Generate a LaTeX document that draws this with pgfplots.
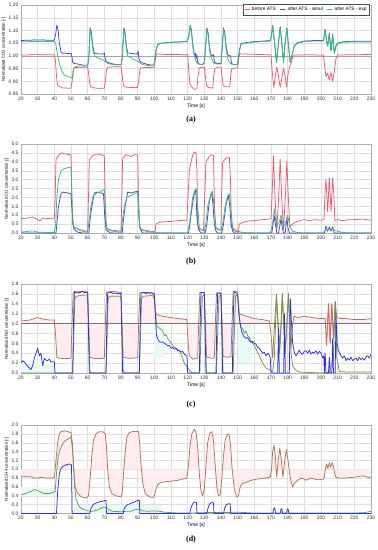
\documentclass[border=0pt]{standalone}
\usepackage{fontspec}
\setmainfont{Liberation Sans}
\newfontfamily\capfont{Liberation Serif}
\usepackage{pgfplots}
\pgfplotsset{compat=1.18}
\usepgfplotslibrary{fillbetween}
\definecolor{cred}{RGB}{250,85,105}
\definecolor{cblue}{RGB}{75,60,235}
\definecolor{cblueb}{RGB}{45,45,240}
\definecolor{cgreen}{RGB}{45,200,110}
\definecolor{cbrown}{RGB}{175,115,85}
\definecolor{colive}{RGB}{105,155,75}
\definecolor{gridc}{RGB}{222,222,222}
\definecolor{framec}{RGB}{175,175,175}
\definecolor{pinkf}{RGB}{255,236,240}
\definecolor{cyanf}{RGB}{232,250,246}
\pgfplotsset{
  myax/.style={
    scale only axis, width=350pt, height=89pt,
    xmin=20, xmax=230, xtick={20,30,...,230},
    grid=major, major grid style={gridc, line width=0.4pt},
    axis line style={framec, line width=0.5pt},
    major tick length=0pt,
    tick label style={font=\fontsize{5}{6}\selectfont, text=black!80},
    /pgf/number format/assume math mode=true,
    xticklabel style={yshift=1pt},
    yticklabel style={xshift=1pt},
    xlabel={Time [s]},
    xlabel style={font=\fontsize{5}{6}\selectfont, yshift=3.5pt},
    ylabel style={font=\fontsize{4.3}{5}\selectfont, yshift=-4pt},
    every axis plot/.append style={line width=0.75pt, no markers, line join=round},
    anchor=north west,
  }
}
\begin{document}
\begin{tikzpicture}
% ---------------- (a)
\begin{axis}[myax, at={(21pt,-5pt)},
  ymin=0.85, ymax=1.20, ytick={0.85,0.90,0.95,1.00,1.05,1.10,1.15,1.20},
  yticklabel style={/pgf/number format/.cd, fixed, fixed zerofill, precision=2},
  ylabel={Normalized CO2 concentration [-]},
  legend style={at={(rel axis cs:0.995,1.005)}, anchor=north east, draw=black!70, line width=0.3pt,
    font=\fontsize{4.8}{5.5}\selectfont, inner sep=0.6pt, outer sep=0pt, legend columns=3,
    /tikz/every even column/.append style={column sep=2pt}},
  legend image code/.code={\draw[#1, line width=0.75pt] (0pt,0pt) -- (5pt,0pt);},
]
\addplot[black!35, line width=1.3pt, forget plot] coordinates {(20,0.998) (230,0.998)};
\addplot[cred] coordinates {(20,1.003)(25,1.004)(28,1.007)(30,1.006)(33,1.004)(36,1.004)(40,1.004)(40.7,0.98)(41.3,0.92)(42,0.885)(43,0.880)(45,0.874)(48,0.873)(50,0.873)(50.7,0.90)(51.3,0.945)(52,0.954)(55,0.955)(60,0.955)(60.6,0.93)(61.3,0.89)(62,0.878)(64,0.874)(67,0.872)(70,0.873)(70.6,0.90)(71.3,0.945)(72,0.955)(75,0.957)(80,0.957)(80.6,0.93)(81.3,0.89)(82,0.878)(85,0.876)(88,0.875)(90,0.876)(90.6,0.90)(91.3,0.945)(92,0.953)(95,0.954)(100,0.955)(100.6,0.99)(101.3,1.008)(105,1.006)(110,1.005)(115,1.005)(120,1.004)(120.6,0.95)(121.3,0.89)(122.5,0.877)(124,0.868)(125.5,0.870)(126.2,0.92)(127,0.953)(128.5,0.955)(130,0.955)(130.6,0.92)(131.3,0.885)(132.5,0.876)(135,0.873)(135.6,0.92)(136.3,0.95)(138,0.955)(140,0.955)(140.6,0.92)(141.3,0.885)(142.5,0.879)(145.3,0.879)(145.8,0.92)(146.5,0.950)(148,0.952)(150,0.953)(150.6,0.99)(151.3,1.008)(155,1.007)(160,1.006)(165,1.005)(170,1.004)(170.7,0.94)(171.7,0.875)(172.6,0.92)(173.5,0.955)(174.5,0.92)(175.5,0.876)(176.5,0.91)(177.5,0.952)(178.5,0.92)(179.3,0.878)(180.3,0.93)(181.2,0.957)(182,0.97)(183,0.995)(184,1.003)(190,1.004)(195,1.004)(201.5,1.003)(202,0.97)(203,0.918)(204,0.932)(205,0.905)(206,0.935)(207,0.900)(208,0.940)(209,0.99)(210,1.003)(215,1.004)(220,1.004)(225,1.005)(230,1.005)};
\addlegendentry{before ATS}
\addplot[cblue] coordinates {(20,1.060)(22,1.061)(25,1.061)(28,1.063)(30,1.062)(33,1.063)(36,1.061)(40,1.061)(40.8,1.085)(41.5,1.121)(42.3,1.10)(43,1.05)(44,1.015)(45,1.010)(47,1.010)(49,1.009)(50,1.010)(50.5,1.0)(51,0.975)(52,0.970)(54,0.968)(56,0.965)(58,0.963)(60,0.963)(60.7,0.99)(61.5,1.111)(62.3,1.09)(63,1.04)(64,1.010)(66,1.008)(68,1.007)(69.5,1.007)(70,1.012)(70.5,0.99)(71,0.978)(72,0.975)(74,0.970)(76,0.967)(78,0.965)(80,0.965)(80.7,0.99)(81.7,1.110)(82.5,1.09)(83.2,1.04)(84,1.012)(86,1.010)(88,1.008)(89.5,1.006)(90.3,1.018)(90.7,0.99)(91.5,0.978)(93,0.972)(95,0.968)(97,0.965)(99,0.963)(100,0.97)(101,1.02)(102,1.045)(104,1.050)(108,1.052)(112,1.054)(116,1.055)(119.5,1.057)(120.5,1.07)(121.5,1.120)(122.3,1.10)(123,1.05)(124,1.005)(124.6,1.01)(125,0.99)(125.5,1.005)(126,0.975)(127,0.968)(129,0.965)(130,0.975)(130.7,1.03)(131.5,1.110)(132.3,1.09)(133,1.04)(134,1.005)(135,1.0)(135.6,1.005)(136,0.975)(138,0.970)(140,0.970)(140.7,1.03)(141.5,1.110)(142.3,1.09)(143,1.04)(144,1.005)(145,1.0)(145.8,1.0)(146.3,0.97)(148,0.965)(150,0.967)(151,1.02)(152,1.048)(155,1.052)(160,1.056)(165,1.058)(169.5,1.060)(170.3,1.08)(171,1.120)(172,1.06)(173.3,0.975)(174.5,1.05)(175.5,1.115)(176.5,1.05)(177.5,0.975)(178.5,1.05)(179.5,1.110)(180.5,1.04)(181.5,0.975)(182.5,1.0)(184,1.040)(186,1.052)(190,1.058)(195,1.060)(201.5,1.060)(202.5,1.105)(203.3,1.06)(204,1.040)(205,1.090)(206,1.020)(207,1.085)(208,1.010)(209,1.040)(210,1.050)(213,1.055)(218,1.057)(224,1.057)(230,1.057)};
\addlegendentry{after ATS - simul}
\addplot[cgreen] coordinates {(20,1.055)(25,1.056)(30,1.057)(35,1.056)(40,1.056)(40.8,1.05)(41.5,1.02)(42,1.0)(43,0.970)(44,0.950)(45,0.935)(46,0.925)(48,0.918)(50,0.915)(51,0.912)(51.5,0.940)(52,0.955)(54,0.960)(57,0.960)(60,0.960)(60.7,0.99)(61.5,1.106)(62.3,1.08)(63,1.03)(64,1.000)(65,0.995)(67,0.990)(69,0.985)(70,0.980)(71,0.975)(72,0.970)(75,0.966)(78,0.965)(80,0.965)(80.7,0.99)(81.7,1.105)(82.5,1.08)(83.2,1.03)(84,1.000)(86,0.992)(88,0.985)(90,0.978)(91.5,0.972)(93,0.966)(96,0.962)(99,0.962)(100,0.97)(101,1.02)(102,1.043)(104,1.050)(108,1.052)(112,1.054)(116,1.055)(119.5,1.056)(120.5,1.07)(121.5,1.118)(122.3,1.09)(123,1.04)(124,1.0)(125,0.978)(126,0.970)(128,0.965)(130,0.97)(130.7,1.03)(131.5,1.105)(132.3,1.08)(133,1.03)(134,0.995)(135,0.980)(136,0.970)(138,0.968)(140,0.968)(140.7,1.03)(141.5,1.105)(142.3,1.08)(143,1.03)(144,0.990)(145,0.975)(146,0.968)(148,0.965)(150,0.966)(151,1.02)(152,1.046)(155,1.050)(160,1.054)(165,1.056)(169.5,1.058)(170.3,1.08)(171,1.118)(172,1.06)(173.3,0.975)(174.5,1.05)(175.5,1.113)(176.5,1.05)(177.5,0.975)(178.5,1.05)(179.5,1.108)(180.5,1.04)(181.5,0.975)(182.5,1.0)(184,1.038)(186,1.050)(190,1.056)(195,1.058)(201.5,1.058)(202.5,1.100)(203.3,1.06)(204,1.038)(205,1.086)(206,1.020)(207,1.080)(208,1.010)(209,1.038)(210,1.048)(213,1.053)(218,1.055)(224,1.055)(230,1.055)};
\addlegendentry{after ATS - exp}
\end{axis}
% ---------------- (b)
\begin{axis}[myax, at={(21pt,-144pt)},
  ymin=0, ymax=5, ytick={0,0.5,...,5},
  yticklabel style={/pgf/number format/.cd, fixed, fixed zerofill, precision=1},
  ylabel={Normalized CO concentration [-]},
]
\addplot[cred] coordinates {(20,0.80)(23,0.83)(25,0.85)(27,0.90)(29,0.80)(30,0.75)(31,0.68)(32,0.75)(33,0.82)(34,0.85)(35,0.78)(36,0.82)(38,0.80)(40,0.80)(40.5,2.0)(41,4.15)(42,4.30)(44,4.50)(46,4.45)(48,4.42)(50,4.40)(50.5,2.0)(51,0.50)(52,0.30)(55,0.20)(58,0.12)(60,0.10)(60.5,2.0)(61,4.10)(63,4.35)(65,4.42)(67,4.42)(70,4.35)(70.5,2.0)(71,0.40)(72,0.22)(75,0.15)(80,0.10)(80.5,2.0)(81,4.20)(83,4.40)(86,4.30)(88,4.40)(90,4.40)(90.5,2.0)(91,0.40)(92,0.20)(95,0.15)(99,0.08)(100.5,0.10)(101,0.50)(103,0.60)(106,0.63)(110,0.65)(115,0.70)(119.5,0.72)(120.2,2.0)(121,3.50)(122,4.00)(123.5,4.50)(125,4.55)(125.6,3.5)(126,0.40)(127,0.20)(129.5,0.15)(130.2,2.0)(131,4.00)(133,4.30)(134.5,4.40)(135.5,4.35)(136,2.0)(136.5,0.30)(138,0.20)(140,0.15)(140.3,2.0)(141,4.00)(143,4.20)(145,4.25)(145.7,3.0)(146.2,0.35)(148,0.12)(150,0.05)(150.5,0.10)(151,0.50)(153,0.60)(157,0.68)(160,0.70)(165,0.75)(170,0.80)(170.6,2.0)(171.5,4.35)(172.4,2.0)(173.5,0.20)(174.6,2.0)(175.5,4.15)(176.4,2.0)(177.5,0.20)(178.6,2.0)(179.5,4.05)(180.4,2.0)(181.3,0.35)(183,0.50)(185,0.62)(188,0.72)(190,0.75)(193,0.70)(196,0.75)(200,0.72)(201.8,0.75)(202.5,2.5)(203,3.00)(204,1.20)(205,3.10)(206,1.20)(207,3.10)(207.8,2.0)(208.3,0.70)(210,0.75)(213,0.70)(217,0.75)(220,0.75)(225,0.78)(230,0.72)};
\addplot[cblue] coordinates {(20,0.0)(41,0.0)(41.5,0.5)(42.5,1.50)(44,2.20)(45,2.30)(48,2.25)(50,2.20)(50.7,1.2)(51.5,0.30)(52,0.20)(54,0.05)(57,0.0)(60.7,0.0)(61.5,0.8)(62.5,1.50)(64,2.25)(66,2.30)(68,2.25)(69.5,2.20)(70.2,1.0)(71,0.20)(72,0.10)(74,0.0)(80.7,0.0)(81.5,0.8)(82.5,1.50)(84,2.30)(86,2.25)(88,2.30)(90,2.35)(90.7,1.0)(91.5,0.20)(93,0.0)(120.5,0.0)(121,0.3)(122,1.00)(123.5,2.00)(124.5,2.40)(125,2.2)(125.5,1.0)(126.5,0.20)(128,0.0)(130.5,0.0)(131.5,0.5)(133,1.80)(134.5,2.30)(135.3,1.5)(136,0.50)(137,0.10)(138,0.0)(140.5,0.0)(141.5,0.5)(143,1.60)(144.5,2.10)(145.3,1.5)(146,0.50)(147,0.10)(148,0.0)(170.5,0.0)(171.2,0.5)(172,0.95)(172.8,0.4)(173.5,0.0)(174.5,0.0)(175.3,0.4)(176,0.80)(176.8,0.3)(177.5,0.0)(178.5,0.0)(179,0.4)(179.5,0.85)(180.2,0.3)(181,0.0)(202,0.0)(202.5,0.2)(203,0.40)(204,0.10)(205,0.35)(206,0.10)(207,0.35)(208,0.0)(230,0.0)};
\addplot[cgreen] coordinates {(20,0.05)(23,0.08)(26,0.12)(28,0.10)(30,0.05)(35,0.03)(40,0.03)(40.8,0.5)(41.5,2.00)(42.5,3.00)(44,3.50)(46,3.62)(48,3.67)(50,3.70)(50.6,2.0)(51.2,0.50)(52,0.20)(53,0.30)(55,0.15)(58,0.08)(60,0.05)(61,0.8)(62,1.50)(63,2.00)(65,2.22)(67,2.30)(69,2.40)(70,2.45)(70.6,1.5)(71.3,0.30)(72,0.20)(75,0.10)(80,0.05)(81,0.8)(82,1.50)(83.5,2.00)(86,2.10)(88,2.20)(90,2.30)(90.6,1.5)(91.3,0.30)(93,0.15)(96,0.08)(99,0.05)(101,0.01)(110,0.0)(120,0.0)(121,0.5)(122,1.20)(123,2.00)(124.5,2.45)(125.2,2.50)(126,1.5)(127,0.30)(128,0.20)(130,0.10)(131,0.6)(132,1.50)(134,2.20)(135,2.35)(135.8,1.5)(137,0.30)(140,0.15)(141,0.5)(142.5,1.50)(144,2.10)(145,2.20)(146,1.3)(147,0.30)(149,0.15)(152,0.05)(155,0.01)(169,0.0)(170,0.10)(171,0.6)(172,1.35)(172.8,0.7)(173.5,0.30)(174.8,0.6)(176,1.00)(176.8,0.6)(177.5,0.30)(178.8,0.6)(180,1.00)(180.8,0.6)(181.5,0.30)(183,0.10)(186,0.02)(190,0.0)(201,0.0)(202,0.10)(204,0.20)(206,0.18)(208,0.15)(210,0.10)(212,0.05)(215,0.02)(220,0.0)(230,0.0)};
\end{axis}
% ---------------- (c)
\begin{axis}[myax, at={(21pt,-284pt)},
  ymin=0, ymax=1.8, ytick={0,0.2,...,1.8},
  yticklabel style={/pgf/number format/.cd, fixed, fixed zerofill, precision=1},
  ylabel={Normalized NO concentration [-]},
]
\addplot[fill=cyanf, draw=none, forget plot] coordinates {(20,0)(40,0)(40,0.2)(20,0.2)} -- cycle;
\addplot[fill=cyanf, draw=none, forget plot] coordinates {(150,0.2)(158,0.2)(158,1.0)(150,1.0)} -- cycle;
\addplot[fill=cyanf, draw=none, forget plot] coordinates {(100,0.3)(106,0.3)(106,1.0)(100,1.0)} -- cycle;
\addplot[name path=onec, draw=none, forget plot] coordinates {(20,1) (230,1)};
\addplot[cbrown, name path=redc] coordinates {(20,1.05)(22,1.06)(25,1.07)(28,1.10)(30,1.12)(32,1.10)(35,1.08)(38,1.07)(40,1.07)(40.7,0.8)(41.5,0.32)(43,0.30)(46,0.29)(50,0.30)(50.6,1.0)(51.3,1.62)(53,1.64)(56,1.65)(60,1.64)(60.6,1.0)(61.3,0.32)(63,0.30)(66,0.29)(70,0.30)(70.6,1.0)(71.3,1.63)(74,1.65)(77,1.64)(80,1.63)(80.6,1.0)(81.3,0.32)(84,0.30)(87,0.30)(90,0.31)(90.6,1.0)(91.3,1.62)(94,1.63)(97,1.62)(100,1.62)(100.6,1.25)(101.2,1.18)(105,1.15)(110,1.12)(115,1.10)(119.5,1.08)(120.3,0.6)(121,0.35)(123,0.28)(126,0.30)(126.6,1.0)(127.3,1.63)(130,1.63)(130.6,1.0)(131.3,0.32)(134,0.30)(136,0.30)(136.6,1.0)(137.3,1.62)(140,1.62)(140.6,1.0)(141.3,0.33)(144,0.32)(146,0.33)(146.6,1.0)(147.3,1.65)(150,1.64)(150.6,1.25)(151.2,1.20)(155,1.15)(160,1.10)(165,1.08)(169,1.05)(170,0.8)(171,0.30)(172,0.9)(173.3,1.60)(174.3,1.0)(175.2,0.50)(176,1.0)(176.8,1.62)(177.7,1.0)(178.5,0.50)(179.5,1.0)(180.5,1.62)(181.3,1.0)(182,0.50)(183,1.0)(183.8,1.15)(186,1.12)(190,1.15)(195,1.12)(200,1.10)(202.5,1.10)(203.3,0.55)(204.5,1.40)(205.5,0.60)(206.5,1.40)(207.5,0.70)(208.5,1.45)(209.5,1.12)(212,1.10)(215,1.10)(220,1.08)(225,1.08)(230,1.10)};
\addplot[pinkf, forget plot] fill between[of=redc and onec];
\addplot[black!55, line width=0.5pt, forget plot] coordinates {(20,1) (230,1)};
\addplot[cred, line width=0.6pt, forget plot] coordinates {(203.3,0.55)(204.5,1.40)(205.5,0.60)(206.5,1.40)(207.5,0.70)};
\addplot[colive] coordinates {(20,0.0)(51,0.0)(51.5,0.5)(52.3,1.50)(53,1.55)(56,1.57)(60,1.58)(60.5,1.0)(61.3,0.05)(62,0.0)(71,0.0)(71.5,0.5)(72.3,1.50)(73,1.55)(76,1.55)(80,1.55)(80.5,1.0)(81.3,0.05)(82,0.0)(91,0.0)(91.5,0.5)(92.3,1.50)(93,1.55)(96,1.56)(99,1.57)(100,1.50)(100.7,1.2)(101.5,0.95)(102.5,0.92)(104,0.88)(105,0.85)(106,0.75)(107,0.78)(108,0.70)(110,0.60)(112,0.52)(114,0.48)(115,0.45)(116,0.38)(117,0.30)(118,0.20)(120,0.10)(122,0.02)(123,0.0)(127.3,0.0)(128,0.8)(128.8,1.55)(130,1.58)(130.6,1.0)(131.2,0.0)(137.3,0.0)(138,0.8)(138.8,1.55)(140,1.58)(140.6,1.0)(141.2,0.0)(147.3,0.0)(148,0.8)(148.8,1.58)(150,1.55)(150.6,1.40)(151.3,1.0)(152,0.92)(153,0.90)(154,0.80)(155,0.85)(156,0.75)(157,0.72)(158,0.65)(160,0.55)(162,0.42)(163,0.35)(165,0.20)(167,0.10)(170,0.05)(171,0.02)(172,0.3)(173.3,1.55)(174.3,0.9)(175.2,0.40)(176,0.9)(176.8,1.58)(177.7,0.9)(178.5,0.40)(179.5,0.9)(180.5,1.58)(181.3,0.9)(182,0.40)(183,0.15)(185,0.05)(187,0.02)(200,0.0)(205,0.01)(207.5,0.3)(208.5,1.45)(209.5,0.3)(211,0.03)(215,0.02)(230,0.02)};
\addplot[cblueb] coordinates {(20,0.20)(21,0.25)(22,0.22)(23,0.18)(24,0.14)(25,0.10)(26,0.07)(27,0.15)(28,0.30)(29,0.40)(30,0.50)(31,0.35)(32,0.40)(33,0.15)(34,0.30)(35,0.26)(36,0.25)(37,0.28)(38,0.22)(39,0.23)(40,0.22)(40.4,0.0)(51,0.0)(51.5,1.0)(52,1.65)(53,1.63)(55,1.62)(56,1.64)(57,1.66)(58,1.62)(59,1.64)(60,1.62)(60.5,0.8)(61,0.0)(71,0.0)(71.5,1.0)(72,1.62)(74,1.63)(75,1.61)(77,1.62)(78,1.60)(80,1.61)(80.5,0.8)(81,0.0)(91,0.0)(91.5,1.0)(92,1.62)(94,1.63)(95,1.60)(96,1.63)(97,1.61)(98,1.63)(100,1.58)(100.6,1.2)(101.3,0.75)(102,0.70)(103,0.63)(104,0.62)(105,0.63)(106,0.60)(107,0.58)(108,0.55)(109,0.56)(110,0.50)(111,0.52)(112,0.48)(113,0.50)(114,0.45)(115,0.46)(116,0.42)(117,0.44)(118,0.38)(119,0.36)(119.6,0.35)(120,0.0)(127,0.0)(127.5,1.0)(128,1.63)(130,1.62)(130.5,0.8)(131,0.0)(137,0.0)(137.5,1.0)(138,1.62)(140,1.61)(140.5,0.8)(141,0.0)(146.8,0.0)(147.3,1.0)(147.8,1.65)(149,1.62)(150,1.58)(150.7,1.2)(151.5,1.00)(152.5,0.82)(153.5,0.75)(155,0.70)(156,0.72)(157,0.65)(158,0.62)(159,0.64)(160,0.60)(161,0.58)(162,0.52)(163,0.50)(164,0.45)(165,0.40)(166,0.42)(167,0.35)(168,0.40)(169,0.36)(169.6,0.30)(170,0.0)(174,0.0)(174.5,0.90)(175,0.0)(177.6,0.0)(178.1,1.20)(178.6,0.0)(181,0.0)(181.6,1.50)(182.3,1.0)(183,0.6)(184,0.42)(185,0.35)(186,0.40)(187,0.46)(188,0.40)(189,0.38)(190,0.44)(191,0.45)(192,0.40)(193,0.46)(194,0.38)(195,0.42)(196,0.40)(197,0.45)(198,0.38)(199,0.44)(200,0.40)(201,0.30)(201.7,0.35)(202,0.0)(202.5,0.40)(203,0.0)(204.5,0.0)(205,0.32)(205.5,0.0)(206.5,0.0)(207,0.70)(207.5,0.0)(208.5,0.0)(209,1.15)(209.7,0.60)(210.5,0.45)(212,0.35)(213,0.30)(214,0.35)(215,0.25)(216,0.30)(217,0.26)(218,0.32)(219,0.25)(220,0.28)(221,0.30)(222,0.25)(223,0.32)(224,0.27)(225,0.30)(226,0.26)(227,0.33)(228,0.35)(229,0.30)(230,0.38)};
\end{axis}
% ---------------- (d)
\begin{axis}[myax, at={(21pt,-425pt)}, height=88.5pt,
  ymin=0, ymax=2, ytick={0,0.2,...,2.0},
  yticklabel style={/pgf/number format/.cd, fixed, fixed zerofill, precision=1},
  ylabel={Normalized CH4 concentration [-]},
]
\addplot[fill=cyanf, draw=none, forget plot] coordinates {(20,0.4)(40,0.4)(40,0.6)(20,0.6)} -- cycle;
\addplot[fill=cyanf, draw=none, forget plot] coordinates {(52,0)(105,0)(105,0.2)(52,0.2)} -- cycle;
\addplot[name path=oned, draw=none, forget plot] coordinates {(20,1) (230,1)};
\addplot[cbrown, name path=redd] coordinates {(20,0.85)(23,0.83)(26,0.83)(28,0.80)(30,0.80)(32,0.82)(35,0.80)(38,0.80)(40,0.81)(41,1.20)(42,1.60)(43,1.80)(44,1.85)(46,1.87)(48,1.85)(50,1.83)(50.8,1.60)(51.5,1.10)(52.5,0.60)(54,0.45)(56,0.38)(59,0.35)(60.5,0.40)(61.5,0.80)(62.5,1.30)(63.5,1.65)(65,1.80)(67,1.85)(69,1.85)(70.5,1.80)(71.3,1.50)(72,1.00)(73,0.60)(74.5,0.45)(77,0.40)(80,0.38)(80.7,0.45)(81.5,0.90)(82.5,1.40)(83.5,1.72)(85,1.83)(87,1.85)(89,1.86)(90.5,1.85)(91.2,1.60)(92,1.10)(93,0.70)(94.5,0.45)(97,0.38)(99,0.36)(100,0.40)(101,0.55)(102,0.65)(104,0.70)(107,0.72)(110,0.73)(114,0.75)(117,0.78)(119.5,0.80)(120.5,1.10)(121.5,1.55)(122.5,1.80)(124,1.90)(125,1.85)(126,1.50)(127,0.90)(128,0.50)(129,0.40)(130,0.55)(131,1.10)(132,1.60)(133.3,1.82)(134.5,1.85)(135.5,1.65)(136.5,1.10)(137.5,0.60)(138.5,0.40)(139.5,0.42)(140.5,0.80)(141.5,1.30)(142.5,1.65)(143.7,1.78)(144.8,1.80)(145.7,1.55)(146.7,1.00)(148,0.55)(149.3,0.38)(150.5,0.40)(151.5,0.60)(153,0.68)(155,0.70)(158,0.75)(162,0.78)(166,0.80)(169.5,0.82)(170.3,1.00)(171,1.40)(171.8,1.55)(172.6,1.30)(173.4,0.82)(174.3,1.20)(175.3,1.48)(176.2,1.20)(177.2,0.82)(178.2,1.20)(179.3,1.45)(180.2,1.20)(181.2,0.90)(182.2,0.70)(183,0.60)(184,0.68)(186,0.75)(188,0.80)(190,0.78)(191,0.75)(192,0.77)(194,0.80)(196,0.78)(198,0.76)(200,0.77)(201.8,0.78)(202.6,1.00)(203.4,1.12)(204.1,1.02)(205,1.15)(205.8,1.05)(206.6,1.15)(207.4,1.08)(208.2,0.90)(209,0.82)(211,0.80)(214,0.80)(217,0.81)(220,0.82)(223,0.84)(225,0.85)(227,0.83)(230,0.80)};
\addplot[pinkf, forget plot] fill between[of=redd and oned];
\addplot[colive] coordinates {(20,0.42)(22,0.44)(24,0.47)(26,0.50)(28,0.54)(30,0.52)(32,0.48)(34,0.45)(37,0.45)(39,0.47)(40.5,0.50)(41.2,0.85)(42,1.20)(43,1.40)(44,1.50)(46,1.63)(48,1.68)(50,1.72)(50.8,1.50)(51.5,1.10)(52.2,0.60)(53,0.32)(55,0.15)(57,0.10)(60,0.06)(63,0.05)(66,0.08)(68,0.12)(70,0.15)(71.5,0.12)(73,0.08)(75,0.05)(80,0.04)(83,0.05)(86,0.05)(88,0.08)(90,0.10)(91.5,0.09)(93,0.06)(96,0.05)(100,0.06)(103,0.05)(106,0.03)(110,0.02)(115,0.01)(120,0.01)(130,0.02)(140,0.02)(150,0.03)(160,0.01)(170,0.01)(180,0.01)(190,0.01)(200,0.01)(210,0.01)(220,0.01)(226,0.02)(230,0.05)};
\addplot[cblueb] coordinates {(20,0.0)(41.3,0.0)(42,0.50)(43,0.90)(44,1.02)(45,1.06)(47,1.10)(49,1.12)(50.3,1.10)(50.7,0.0)(61.3,0.0)(62,0.12)(63,0.18)(64,0.22)(66,0.25)(68,0.27)(70,0.29)(71,0.30)(71.3,0.0)(81.3,0.0)(82,0.12)(83,0.17)(84,0.20)(86,0.23)(88,0.26)(90,0.29)(91,0.30)(91.3,0.0)(121.2,0.0)(122,0.12)(123,0.22)(124,0.26)(125.3,0.25)(125.6,0.0)(131.5,0.0)(132.2,0.12)(133.2,0.22)(134.5,0.25)(135.5,0.24)(135.8,0.0)(141.5,0.0)(142.2,0.12)(143.2,0.20)(144.5,0.22)(145.5,0.22)(145.8,0.0)(171,0.0)(171.6,0.10)(172.2,0.13)(172.8,0.0)(175.5,0.0)(176,0.10)(176.5,0.11)(177,0.0)(179.3,0.0)(179.8,0.10)(180.3,0.10)(180.8,0.0)(230,0.0)};
\end{axis}
\node[font=\capfont\bfseries\fontsize{8}{9}\selectfont] at (191pt,-120pt) {(a)};
\node[font=\capfont\bfseries\fontsize{8}{9}\selectfont] at (191pt,-262pt) {(b)};
\node[font=\capfont\bfseries\fontsize{8}{9}\selectfont] at (191pt,-405pt) {(c)};
\node[font=\capfont\bfseries\fontsize{8}{9}\selectfont] at (191pt,-540pt) {(d)};
\pgfresetboundingbox
\useasboundingbox (0,0) rectangle (378pt,-550pt);
\end{tikzpicture}
\end{document}
